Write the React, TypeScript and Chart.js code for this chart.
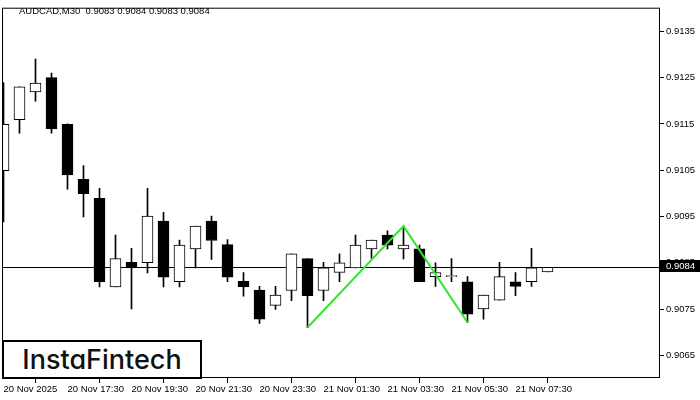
import React, { useEffect, useRef } from "react";
import { Chart, registerables } from "chart.js";

Chart.register(...registerables);

const symbolTitle = "AUDCAD,M30  0.9083 0.9084 0.9083 0.9084";
const logoText = "InstaFintech";

const timeLabels = [
  "20 Nov 2025",
  "20 Nov 17:30",
  "20 Nov 19:30",
  "20 Nov 21:30",
  "20 Nov 23:30",
  "21 Nov 01:30",
  "21 Nov 03:30",
  "21 Nov 05:30",
  "21 Nov 07:30",
];
const labelEvery = 4;

const priceTicks = [0.9065, 0.9075, 0.9085, 0.9095, 0.9105, 0.9115, 0.9125, 0.9135];

const opens = [
  0.91049, 0.91159, 0.91219, 0.9125, 0.91149, 0.9103, 0.90989, 0.90798, 0.90851, 0.9085,
  0.9094, 0.90809, 0.9088, 0.9094, 0.90889, 0.9081, 0.90791, 0.90758, 0.9079, 0.90859,
  0.9079, 0.90829, 0.90839, 0.9088, 0.9091, 0.9088, 0.9088, 0.9082, 0.9082, 0.90809,
  0.9075, 0.90769, 0.90809, 0.90809, 0.9083,
];
const highs = [
  0.91239, 0.9123, 0.9129, 0.9126, 0.9115, 0.9106, 0.91011, 0.9091, 0.90881, 0.91011,
  0.90959, 0.90899, 0.90929, 0.90951, 0.909, 0.90829, 0.90799, 0.90799, 0.90869, 0.90859,
  0.90851, 0.90869, 0.9091, 0.90899, 0.90919, 0.90929, 0.90888, 0.9085, 0.90859, 0.9082,
  0.9078, 0.90851, 0.90829, 0.90881, 0.9084,
];
const lows = [
  0.90938, 0.9113, 0.91199, 0.9113, 0.91009, 0.90949, 0.90798, 0.90798, 0.9075, 0.90828,
  0.90798, 0.90798, 0.90839, 0.90857, 0.90809, 0.90778, 0.90719, 0.90749, 0.90768, 0.9071,
  0.90768, 0.90809, 0.90839, 0.9086, 0.9088, 0.90858, 0.90809, 0.90799, 0.90809, 0.90721,
  0.90728, 0.90769, 0.90779, 0.90799, 0.9083,
];
const closes = [
  0.91149, 0.9123, 0.91238, 0.91139, 0.9104, 0.90999, 0.90809, 0.90859, 0.90839, 0.90951,
  0.90819, 0.90888, 0.90929, 0.90898, 0.90819, 0.90798, 0.90728, 0.9078, 0.90869, 0.90779,
  0.90839, 0.9085, 0.90888, 0.90899, 0.90888, 0.90888, 0.90809, 0.90829, 0.9082, 0.90739,
  0.9078, 0.9082, 0.90799, 0.90839, 0.9084,
];

// Double top pattern: low -> high -> low
const patternIndex = [19, 25, 29];
const patternKind = ["low", "high", "low"];

const FONT = "'Liberation Sans', Arial, sans-serif";

export default function App() {
  const canvasRef = useRef<HTMLCanvasElement | null>(null);

  useEffect(() => {
    if (!canvasRef.current) return;
    const lastClose = closes[closes.length - 1];

    const bodies = opens.map((o, i) => ({ x: i, y: [o, closes[i]] }));
    const wicks = lows.map((l, i) => ({ x: i, y: [l, highs[i]] }));
    const bodyColors = opens.map((o, i) => (closes[i] >= o ? "#ffffff" : "#000000"));
    const pattern = patternIndex.map((idx, k) => ({
      x: idx,
      y: patternKind[k] === "low" ? lows[idx] : highs[idx],
    }));

    const framePlugin = {
      id: "frame",
      beforeDatasetsDraw(chart: any) {
        const { ctx, chartArea: a, scales } = chart;
        const py = Math.round(scales.y.getPixelForValue(lastClose)) + 0.5;
        ctx.save();
        ctx.strokeStyle = "#000";
        ctx.lineWidth = 1;
        ctx.beginPath();
        ctx.moveTo(a.left, py);
        ctx.lineTo(a.right, py);
        ctx.stroke();
        ctx.restore();
      },
      afterDraw(chart: any) {
        const { ctx, chartArea: a, scales } = chart;
        ctx.save();
        ctx.strokeStyle = "#000";
        ctx.lineWidth = 1;
        ctx.strokeRect(a.left + 0.5, a.top + 0.5, a.right - a.left - 1, a.bottom - a.top - 1);
        const py = Math.round(scales.y.getPixelForValue(lastClose));
        ctx.fillStyle = "#000";
        ctx.fillRect(a.right, py - 7, 40, 12);
        ctx.fillStyle = "#fff";
        ctx.font = `9.5px ${FONT}`;
        ctx.textBaseline = "middle";
        ctx.textAlign = "left";
        ctx.fillText(lastClose.toFixed(4), a.right + 6, py - 1);
        ctx.restore();
      },
    };

    const chart = new Chart(canvasRef.current, {
      type: "bar",
      data: {
        datasets: [
          {
            type: "line",
            data: pattern,
            borderColor: "#2ee62e",
            borderWidth: 2,
            pointRadius: 0,
            fill: false,
            tension: 0,
          } as any,
          {
            type: "bar",
            data: bodies,
            backgroundColor: bodyColors,
            borderColor: "#000",
            borderWidth: 1,
            borderSkipped: false,
            barThickness: 11,
            minBarLength: 1,
            grouped: false,
          } as any,
          {
            type: "bar",
            data: wicks,
            backgroundColor: "#000",
            borderWidth: 0,
            barThickness: 1,
            grouped: false,
          } as any,
        ],
      },
      options: {
        animation: false,
        responsive: true,
        maintainAspectRatio: false,
        layout: { padding: { left: 2, top: 3, right: 0, bottom: 0 } },
        plugins: { legend: { display: false }, tooltip: { enabled: false }, title: { display: false } },
        scales: {
          x: {
            type: "linear",
            min: -0.09375,
            max: 41.03125,
            offset: false,
            border: { display: false },
            grid: { display: true, drawOnChartArea: false, drawTicks: true, tickLength: 5, color: "#000" },
            afterBuildTicks: (s: any) => {
              s.ticks = timeLabels.map((_, k) => ({ value: k * labelEvery }));
            },
            afterFit: (s: any) => {
              s.height = 22;
            },
            ticks: {
              align: "start",
              autoSkip: false,
              maxRotation: 0,
              padding: 1,
              color: "#000",
              font: { family: FONT, size: 9.5 },
              callback: (v: any) => timeLabels[Math.round(Number(v) / labelEvery)] ?? "",
            },
          } as any,
          y: {
            type: "linear",
            position: "right",
            min: 0.90601,
            max: 0.91401,
            border: { display: false },
            grid: { display: true, drawOnChartArea: false, drawTicks: true, tickLength: 4, color: "#000" },
            afterBuildTicks: (s: any) => {
              s.ticks = priceTicks.map((v) => ({ value: v }));
            },
            afterFit: (s: any) => {
              s.width = 40;
            },
            ticks: {
              padding: 2,
              color: "#000",
              font: { family: FONT, size: 9.5 },
              callback: (v: any) => Number(v).toFixed(4),
            },
          } as any,
        },
      },
      plugins: [framePlugin],
    });

    return () => chart.destroy();
  }, []);

  return (
    <div
      style={{
        position: "fixed",
        left: 0,
        top: 0,
        width: 700,
        height: 400,
        background: "#fff",
      }}
    >
      <canvas ref={canvasRef} />
      <div
        style={{
          position: "absolute",
          left: 19,
          top: 5,
          fontFamily: FONT,
          fontSize: "9.5px",
          lineHeight: "12px",
          color: "#000",
          whiteSpace: "pre",
        }}
      >
        {symbolTitle}
      </div>
      <div
        style={{
          position: "absolute",
          left: 2,
          top: 340,
          width: 200,
          height: 39,
          boxSizing: "border-box",
          border: "2px solid #000",
          background: "#fff",
          display: "flex",
          alignItems: "center",
          justifyContent: "center",
          fontFamily: "Inter, 'Open Sans', sans-serif",
          fontWeight: 500,
          fontSize: "27px",
          color: "#111",
          fontFeatureSettings: '"cv11"',
          letterSpacing: "0px",
        }}
      >
        {logoText}
      </div>
    </div>
  );
}
